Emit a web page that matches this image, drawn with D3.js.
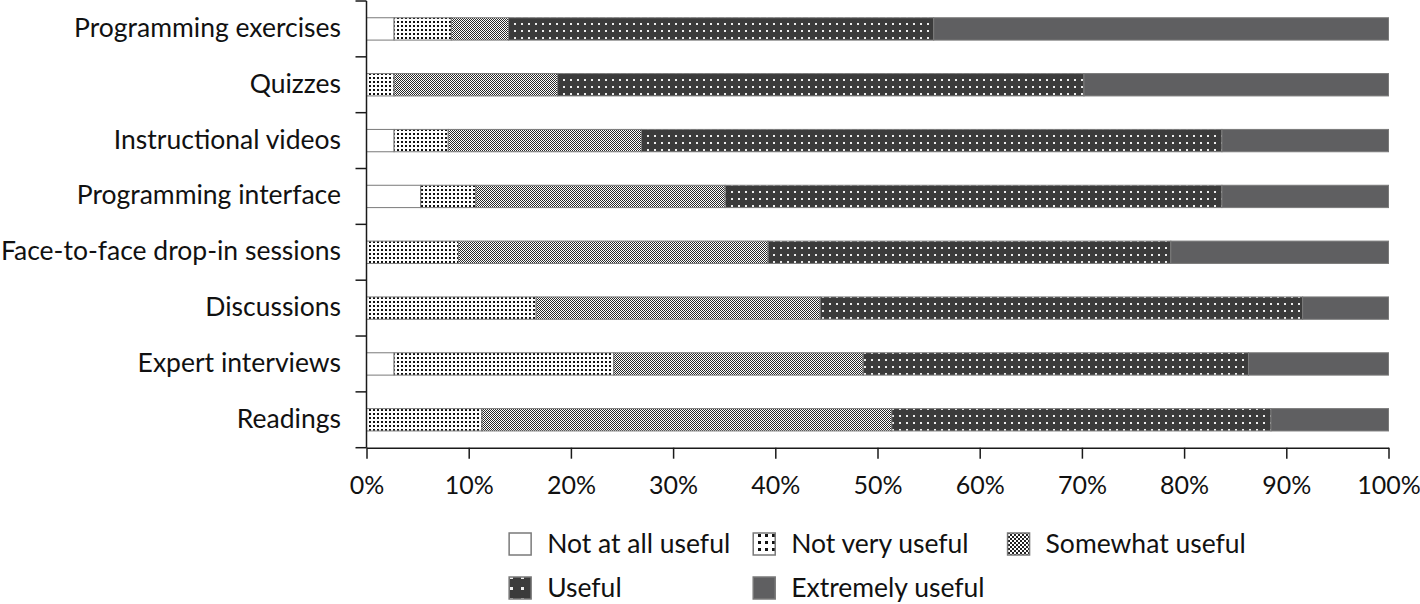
<!DOCTYPE html>
<html><head><meta charset="utf-8">
<script src="https://cdn.jsdelivr.net/npm/d3@7"></script>
<style>body{margin:0;background:#fff} svg{display:block}</style>
</head><body><svg id="c" width="1420" height="604"></svg>
<script>
const categories = ["Programming exercises","Quizzes","Instructional videos","Programming interface","Face-to-face drop-in sessions","Discussions","Expert interviews","Readings"];
const seriesNames = ["Not at all useful","Not very useful","Somewhat useful","Useful","Extremely useful"];
const notAtAllUseful  = [2.7, 0,    2.7,  5.3,  0,    0,    2.7,  0];
const notVeryUseful   = [5.6, 2.7,  5.3,  5.4,  9.0,  16.6, 21.5, 11.3];
const somewhatUseful  = [5.6, 16.0, 18.9, 24.4, 30.3, 27.8, 24.4, 40.1];
const useful          = [41.6,51.5, 56.8, 48.6, 39.4, 47.2, 37.7, 37.1];
const extremelyUseful = [44.5,29.8, 16.3, 16.3, 21.3, 8.4,  13.7, 11.5];
const xTicks = [0,10,20,30,40,50,60,70,80,90,100];

const seriesValues = [notAtAllUseful, notVeryUseful, somewhatUseful, useful, extremelyUseful];
const rows = categories.map((c,i)=>{const o={cat:c}; seriesNames.forEach((s,j)=>o[s]=seriesValues[j][i]); return o;});

const FONT = "Lato, 'Open Sans', sans-serif";
const FS = 26.5;
const FS_TICK = 25;
const svg = d3.select("#c");
const M = {left:366.5, right:1388.5, top:1, bottom:447.7};

const x = d3.scaleLinear().domain([0,100]).range([M.left, M.right]);
const y = d3.scaleBand().domain(categories).range([M.top, M.bottom]).padding(0);

// patterns
const defs = svg.append("defs");
function pat(id,w,h,bg,draw){
  const p = defs.append("pattern").attr("id",id).attr("patternUnits","userSpaceOnUse").attr("width",w).attr("height",h);
  p.append("rect").attr("width",w).attr("height",h).attr("fill",bg);
  draw(p);
}
pat("pNotVery",4,4,"#fff",p=>p.append("rect").attr("x",1).attr("y",1).attr("width",2).attr("height",2).attr("fill","#111"));
pat("pSomewhat",2,2,"#fff",p=>{p.append("rect").attr("x",0).attr("y",0).attr("width",1).attr("height",1).attr("fill","#2a2a2a");p.append("rect").attr("x",1).attr("y",1).attr("width",1).attr("height",1).attr("fill","#2a2a2a");});
pat("pUseful",7,7,"#3b3b3b",p=>p.append("rect").attr("x",3).attr("y",2).attr("width",2).attr("height",2).attr("fill","#eee"));
// legend versions (coarser)
pat("lNotVery",7,7,"#fff",p=>p.append("rect").attr("x",2).attr("y",2).attr("width",3).attr("height",3).attr("fill","#111"));
pat("lSomewhat",4,4,"#fff",p=>{p.append("rect").attr("x",0).attr("y",0).attr("width",2).attr("height",2).attr("fill","#222");p.append("rect").attr("x",2).attr("y",2).attr("width",2).attr("height",2).attr("fill","#222");});
pat("lUseful",11,11,"#3b3b3b",p=>p.append("rect").attr("x",4).attr("y",4).attr("width",3).attr("height",3).attr("fill","#eee"));

const fills = ["#ffffff","url(#pNotVery)","url(#pSomewhat)","url(#pUseful)","#5f5f61"];
const legendFills = ["#ffffff","url(#lNotVery)","url(#lSomewhat)","url(#lUseful)","#5f5f61"];

const stack = d3.stack().keys(seriesNames)(rows);
const barH = y.bandwidth()*0.4;

const g = svg.append("g");
stack.forEach((layer,li)=>{
  g.selectAll(null).data(layer.filter(d=>d[1]-d[0]>0)).enter().append("rect")
    .attr("x",d=>x(d[0]))
    .attr("width",d=>x(d[1])-x(d[0]))
    .attr("y",d=>y(d.data.cat)+(y.bandwidth()-barH)/2)
    .attr("height",barH)
    .attr("fill",fills[li])
    .attr("stroke","#7a7a7a").attr("stroke-width",1);
});

// y axis
const ax = svg.append("g").attr("stroke","#1a1a1a").attr("stroke-width",1.5);
ax.append("line").attr("x1",M.left).attr("x2",M.left).attr("y1",M.top).attr("y2",M.bottom);
const bounds = categories.map(c=>y(c)).concat([y.range()[1]]);
ax.selectAll(null).data(bounds).enter().append("line")
  .attr("x1",M.left-11).attr("x2",M.left).attr("y1",d=>d).attr("y2",d=>d);
svg.append("g").selectAll("text").data(categories).enter().append("text")
  .attr("x",341).attr("y",d=>y(d)+y.bandwidth()/2+8)
  .attr("text-anchor","end").attr("font-family",FONT).attr("font-size",FS).attr("fill","#111")
  .text(d=>d);

// x axis
const xg = svg.append("g").attr("transform",`translate(0,${M.bottom})`)
  .call(d3.axisBottom(x).tickValues(xTicks).tickSize(11).tickSizeOuter(0).tickFormat(d=>d+"%"));
xg.select(".domain").attr("stroke","#1a1a1a").attr("stroke-width",1.5);
xg.selectAll(".tick line").attr("stroke","#1a1a1a").attr("stroke-width",1.5);
xg.selectAll(".tick text").attr("y",46).attr("dy",null).attr("font-family",FONT).attr("font-size",FS_TICK).attr("fill","#111");

// legend
const sw = 22, gapT = 16, gapC = 23;
const lg = svg.append("g");
const rowsL = [[0,1,2],[3,4]];
const rowY = [544, 588];
const tmp = lg.append("text").attr("font-family",FONT).attr("font-size",FS);
const tw = seriesNames.map(s=>{tmp.text(s);return tmp.node().getComputedTextLength();});
tmp.remove();
const colW = [0,1,2].map(ci=>d3.max(rowsL.filter(r=>r[ci]!==undefined).map(r=>tw[r[ci]])));
const totalW = d3.sum(colW) + 3*(sw+gapT) + 2*gapC;
const startX = (M.left+M.right)/2 - totalW/2;
const colX = [startX, startX+sw+gapT+colW[0]+gapC];
colX.push(colX[1]+sw+gapT+colW[1]+gapC);
rowsL.forEach((r,ri)=>{
  r.forEach((si,ci)=>{
    lg.append("rect").attr("x",colX[ci]).attr("y",rowY[ri]-sw/2).attr("width",sw).attr("height",sw)
      .attr("fill",legendFills[si]).attr("stroke","#7a7a7a").attr("stroke-width",1.5);
    lg.append("text").attr("x",colX[ci]+sw+gapT).attr("y",rowY[ri]+9)
      .attr("font-family",FONT).attr("font-size",FS).attr("fill","#111").text(seriesNames[si]);
  });
});
</script>
</body></html>
